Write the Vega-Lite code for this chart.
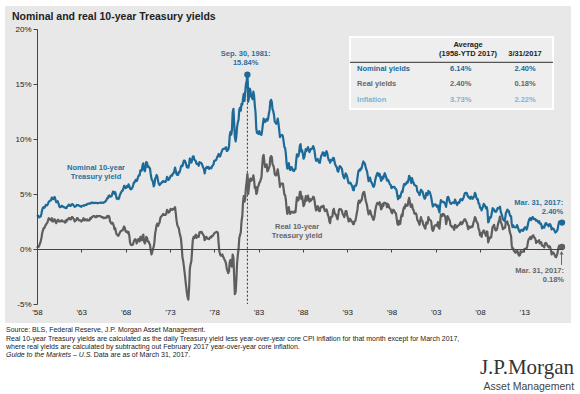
{
"$schema":"https://vega.github.io/schema/vega-lite/v6.json",
"width":525,"height":275,"autosize":"none",
"padding":{"left":37,"top":29,"right":18,"bottom":90},
"background":"white",
"config":{"font":"Liberation Sans","view":{"stroke":null},"axis":{"grid":false}},
"data":{"values":[{}]},
"datasets":{"yields":[
{"d":1958,"n":3.09,"r":0.1},{"d":1958.08,"n":3.05,"r":0.2},{"d":1958.17,"n":2.98,"r":0.2},{"d":1958.25,"n":2.88,"r":0.3},{"d":1958.33,"n":2.92,"r":0.5},{"d":1958.42,"n":2.97,"r":0.7},{"d":1958.5,"n":3.2,"r":1.0},{"d":1958.58,"n":3.54,"r":1.4},{"d":1958.67,"n":3.76,"r":1.7},{"d":1958.75,"n":3.8,"r":1.9},{"d":1958.83,"n":3.74,"r":1.9},{"d":1958.92,"n":3.86,"r":2.1},
{"d":1959,"n":4.02,"r":2.2},{"d":1959.08,"n":3.96,"r":2.3},{"d":1959.17,"n":3.99,"r":2.4},{"d":1959.25,"n":4.12,"r":2.6},{"d":1959.33,"n":4.31,"r":2.8},{"d":1959.42,"n":4.34,"r":2.7},{"d":1959.5,"n":4.4,"r":2.7},{"d":1959.58,"n":4.43,"r":2.6},{"d":1959.67,"n":4.68,"r":2.8},{"d":1959.75,"n":4.53,"r":2.5},{"d":1959.83,"n":4.53,"r":2.5},{"d":1959.92,"n":4.69,"r":2.7},
{"d":1960,"n":4.72,"r":2.7},{"d":1960.08,"n":4.49,"r":2.5},{"d":1960.17,"n":4.25,"r":2.35},{"d":1960.25,"n":4.28,"r":2.5},{"d":1960.33,"n":4.35,"r":2.65},{"d":1960.42,"n":4.15,"r":2.65},{"d":1960.5,"n":3.9,"r":2.5},{"d":1960.58,"n":3.8,"r":2.5},{"d":1960.67,"n":3.8,"r":2.5},{"d":1960.75,"n":3.89,"r":2.6},{"d":1960.83,"n":3.93,"r":2.6},{"d":1960.92,"n":3.84,"r":2.5},
{"d":1961,"n":3.84,"r":2.5},{"d":1961.08,"n":3.78,"r":2.5},{"d":1961.17,"n":3.74,"r":2.4},{"d":1961.25,"n":3.78,"r":2.6},{"d":1961.33,"n":3.71,"r":2.5},{"d":1961.42,"n":3.88,"r":2.7},{"d":1961.5,"n":3.92,"r":2.7},{"d":1961.58,"n":4.04,"r":2.8},{"d":1961.67,"n":3.98,"r":2.8},{"d":1961.75,"n":3.92,"r":2.7},{"d":1961.83,"n":3.94,"r":2.7},{"d":1961.92,"n":4.06,"r":2.9},
{"d":1962,"n":4.08,"r":2.9},{"d":1962.08,"n":4.04,"r":2.8},{"d":1962.17,"n":3.93,"r":2.7},{"d":1962.25,"n":3.84,"r":2.5},{"d":1962.33,"n":3.87,"r":2.6},{"d":1962.42,"n":3.91,"r":2.6},{"d":1962.5,"n":4.01,"r":2.8},{"d":1962.58,"n":3.98,"r":2.8},{"d":1962.67,"n":3.98,"r":2.7},{"d":1962.75,"n":3.93,"r":2.6},{"d":1962.83,"n":3.92,"r":2.6},{"d":1962.92,"n":3.86,"r":2.6},
{"d":1963,"n":3.83,"r":2.5},{"d":1963.08,"n":3.92,"r":2.6},{"d":1963.17,"n":3.93,"r":2.6},{"d":1963.25,"n":3.97,"r":2.8},{"d":1963.33,"n":3.93,"r":2.6},{"d":1963.42,"n":3.99,"r":2.7},{"d":1963.5,"n":4.02,"r":2.7},{"d":1963.58,"n":4.0,"r":2.6},{"d":1963.67,"n":4.08,"r":2.7},{"d":1963.75,"n":4.11,"r":2.6},{"d":1963.83,"n":4.12,"r":2.6},{"d":1963.92,"n":4.13,"r":2.6},
{"d":1964,"n":4.17,"r":2.8},{"d":1964.08,"n":4.15,"r":2.75},{"d":1964.17,"n":4.22,"r":2.9},{"d":1964.25,"n":4.23,"r":2.9},{"d":1964.33,"n":4.2,"r":3.0},{"d":1964.42,"n":4.17,"r":3.0},{"d":1964.5,"n":4.19,"r":3.0},{"d":1964.58,"n":4.19,"r":2.9},{"d":1964.67,"n":4.2,"r":2.9},{"d":1964.75,"n":4.19,"r":3.0},{"d":1964.83,"n":4.15,"r":2.95},{"d":1964.92,"n":4.18,"r":3.0},
{"d":1965,"n":4.19,"r":3.0},{"d":1965.08,"n":4.21,"r":3.0},{"d":1965.17,"n":4.21,"r":3.0},{"d":1965.25,"n":4.2,"r":2.9},{"d":1965.33,"n":4.21,"r":2.9},{"d":1965.42,"n":4.21,"r":2.9},{"d":1965.5,"n":4.2,"r":2.8},{"d":1965.58,"n":4.25,"r":2.85},{"d":1965.67,"n":4.29,"r":2.8},{"d":1965.75,"n":4.35,"r":2.85},{"d":1965.83,"n":4.45,"r":2.85},{"d":1965.92,"n":4.62,"r":3.0},
{"d":1966,"n":4.61,"r":2.9},{"d":1966.08,"n":4.83,"r":3.0},{"d":1966.17,"n":4.87,"r":2.9},{"d":1966.25,"n":4.75,"r":2.5},{"d":1966.33,"n":4.78,"r":2.4},{"d":1966.42,"n":4.81,"r":2.3},{"d":1966.5,"n":5.02,"r":2.4},{"d":1966.58,"n":5.22,"r":2.3},{"d":1966.67,"n":5.18,"r":2.1},{"d":1966.75,"n":5.01,"r":1.8},{"d":1966.83,"n":5.16,"r":1.9},{"d":1966.92,"n":4.84,"r":1.5},
{"d":1967,"n":4.58,"r":1.3},{"d":1967.08,"n":4.63,"r":1.3},{"d":1967.17,"n":4.54,"r":1.2},{"d":1967.25,"n":4.59,"r":1.3},{"d":1967.33,"n":4.85,"r":1.45},{"d":1967.42,"n":5.02,"r":1.6},{"d":1967.5,"n":5.16,"r":1.65},{"d":1967.58,"n":5.28,"r":1.7},{"d":1967.67,"n":5.3,"r":1.7},{"d":1967.75,"n":5.48,"r":1.9},{"d":1967.83,"n":5.75,"r":2.05},{"d":1967.92,"n":5.7,"r":1.9},
{"d":1968,"n":5.53,"r":1.6},{"d":1968.08,"n":5.56,"r":1.55},{"d":1968.17,"n":5.74,"r":1.6},{"d":1968.25,"n":5.64,"r":1.45},{"d":1968.33,"n":5.87,"r":1.55},{"d":1968.42,"n":5.72,"r":1.2},{"d":1968.5,"n":5.5,"r":0.6},{"d":1968.58,"n":5.42,"r":0.4},{"d":1968.67,"n":5.46,"r":0.35},{"d":1968.75,"n":5.58,"r":0.4},{"d":1968.83,"n":5.7,"r":0.4},{"d":1968.92,"n":6.03,"r":0.7},
{"d":1969,"n":6.04,"r":0.8},{"d":1969.08,"n":6.19,"r":0.9},{"d":1969.17,"n":6.3,"r":0.8},{"d":1969.25,"n":6.17,"r":0.5},{"d":1969.33,"n":6.32,"r":0.7},{"d":1969.42,"n":6.57,"r":0.9},{"d":1969.5,"n":6.72,"r":0.8},{"d":1969.58,"n":6.69,"r":0.7},{"d":1969.67,"n":7.16,"r":1.1},{"d":1969.75,"n":7.1,"r":0.8},{"d":1969.83,"n":7.14,"r":0.8},{"d":1969.92,"n":7.65,"r":1.2},
{"d":1970,"n":7.79,"r":1.3},{"d":1970.08,"n":7.24,"r":0.7},{"d":1970.17,"n":7.07,"r":0.5},{"d":1970.25,"n":7.39,"r":0.7},{"d":1970.33,"n":7.91,"r":1.1},{"d":1970.42,"n":7.84,"r":1.0},{"d":1970.5,"n":7.46,"r":0.7},{"d":1970.58,"n":7.53,"r":0.7},{"d":1970.67,"n":7.39,"r":0.5},{"d":1970.75,"n":7.33,"r":0.4},{"d":1970.83,"n":6.84,"r":-0.1},{"d":1970.92,"n":6.39,"r":-0.5},
{"d":1971,"n":6.24,"r":-0.3},{"d":1971.08,"n":6.11,"r":0.0},{"d":1971.17,"n":5.7,"r":0.2},{"d":1971.25,"n":5.83,"r":0.6},{"d":1971.33,"n":6.39,"r":1.4},{"d":1971.42,"n":6.52,"r":1.8},{"d":1971.5,"n":6.73,"r":2.2},{"d":1971.58,"n":6.58,"r":2.3},{"d":1971.67,"n":6.14,"r":2.1},{"d":1971.75,"n":5.93,"r":2.3},{"d":1971.83,"n":5.81,"r":2.4},{"d":1971.92,"n":5.93,"r":2.8},
{"d":1972,"n":5.95,"r":2.95},{"d":1972.08,"n":6.08,"r":3.0},{"d":1972.17,"n":6.07,"r":3.1},{"d":1972.25,"n":6.19,"r":3.2},{"d":1972.33,"n":6.13,"r":3.1},{"d":1972.42,"n":6.11,"r":3.1},{"d":1972.5,"n":6.11,"r":3.1},{"d":1972.58,"n":6.21,"r":3.2},{"d":1972.67,"n":6.55,"r":3.55},{"d":1972.75,"n":6.48,"r":3.5},{"d":1972.83,"n":6.28,"r":3.3},{"d":1972.92,"n":6.36,"r":3.35},
{"d":1973,"n":6.46,"r":3.45},{"d":1973.08,"n":6.64,"r":3.65},{"d":1973.17,"n":6.71,"r":3.6},{"d":1973.25,"n":6.67,"r":3.55},{"d":1973.33,"n":6.85,"r":3.65},{"d":1973.42,"n":6.9,"r":3.6},{"d":1973.5,"n":7.13,"r":3.7},{"d":1973.58,"n":7.4,"r":3.8},{"d":1973.67,"n":7.09,"r":3.2},{"d":1973.75,"n":6.79,"r":2.6},{"d":1973.83,"n":6.73,"r":2.2},{"d":1973.92,"n":6.74,"r":2.0},
{"d":1974,"n":6.99,"r":1.9},{"d":1974.08,"n":6.96,"r":1.5},{"d":1974.17,"n":7.21,"r":1.2},{"d":1974.25,"n":7.51,"r":0.9},{"d":1974.33,"n":7.58,"r":0.2},{"d":1974.42,"n":7.54,"r":-0.8},{"d":1974.5,"n":7.81,"r":-1.1},{"d":1974.58,"n":8.04,"r":-1.6},{"d":1974.67,"n":8.04,"r":-2.2},{"d":1974.75,"n":7.9,"r":-2.8},{"d":1974.83,"n":7.68,"r":-3.4},{"d":1974.92,"n":7.43,"r":-4.0},
{"d":1975,"n":7.5,"r":-4.4},{"d":1975.08,"n":7.39,"r":-4.6},{"d":1975.17,"n":7.73,"r":-3.5},{"d":1975.25,"n":8.23,"r":-1.8},{"d":1975.33,"n":8.06,"r":-1.4},{"d":1975.42,"n":7.86,"r":-1.1},{"d":1975.5,"n":8.06,"r":-0.2},{"d":1975.58,"n":8.4,"r":0.8},{"d":1975.67,"n":8.43,"r":1.1},{"d":1975.75,"n":8.14,"r":1.0},{"d":1975.83,"n":8.05,"r":1.15},{"d":1975.92,"n":8.0,"r":1.3},
{"d":1976,"n":7.74,"r":1.0},{"d":1976.08,"n":7.79,"r":1.2},{"d":1976.17,"n":7.73,"r":1.2},{"d":1976.25,"n":7.56,"r":1.1},{"d":1976.33,"n":7.9,"r":1.5},{"d":1976.42,"n":7.86,"r":1.55},{"d":1976.5,"n":7.83,"r":1.5},{"d":1976.58,"n":7.77,"r":1.55},{"d":1976.67,"n":7.59,"r":1.4},{"d":1976.75,"n":7.41,"r":1.3},{"d":1976.83,"n":7.29,"r":1.2},{"d":1976.92,"n":6.87,"r":0.8},
{"d":1977,"n":7.21,"r":0.9},{"d":1977.08,"n":7.39,"r":1.1},{"d":1977.17,"n":7.46,"r":1.05},{"d":1977.25,"n":7.37,"r":0.95},{"d":1977.33,"n":7.46,"r":0.95},{"d":1977.42,"n":7.28,"r":0.9},{"d":1977.5,"n":7.33,"r":1.0},{"d":1977.58,"n":7.4,"r":1.1},{"d":1977.67,"n":7.34,"r":1.05},{"d":1977.75,"n":7.52,"r":1.2},{"d":1977.83,"n":7.58,"r":1.2},{"d":1977.92,"n":7.69,"r":1.3},
{"d":1978,"n":8.01,"r":1.4},{"d":1978.08,"n":8.03,"r":1.5},{"d":1978.17,"n":8.04,"r":1.5},{"d":1978.25,"n":8.15,"r":1.55},{"d":1978.33,"n":8.35,"r":1.55},{"d":1978.42,"n":8.46,"r":1.45},{"d":1978.5,"n":8.64,"r":0.5},{"d":1978.58,"n":8.41,"r":-0.2},{"d":1978.67,"n":8.42,"r":-0.5},{"d":1978.75,"n":8.64,"r":-0.6},{"d":1978.83,"n":8.81,"r":-0.6},{"d":1978.92,"n":9.01,"r":-0.5},
{"d":1979,"n":9.1,"r":-0.7},{"d":1979.08,"n":9.1,"r":-0.8},{"d":1979.17,"n":9.12,"r":-1.0},{"d":1979.25,"n":9.18,"r":-1.1},{"d":1979.33,"n":9.25,"r":-1.3},{"d":1979.42,"n":8.91,"r":-1.8},{"d":1979.5,"n":8.95,"r":-2.0},{"d":1979.58,"n":9.03,"r":-2.2},{"d":1979.67,"n":9.33,"r":-2.0},{"d":1979.75,"n":10.3,"r":-1.2},{"d":1979.83,"n":10.65,"r":-1.0},{"d":1979.92,"n":10.39,"r":-1.5},
{"d":1980,"n":10.8,"r":-1.6},{"d":1980.08,"n":12.41,"r":-0.5},{"d":1980.17,"n":12.75,"r":-0.8},{"d":1980.25,"n":11.47,"r":-2.5},{"d":1980.33,"n":10.18,"r":-4.1},{"d":1980.42,"n":9.78,"r":-3.9},{"d":1980.5,"n":10.25,"r":-2.8},{"d":1980.58,"n":11.1,"r":-1.3},{"d":1980.67,"n":11.51,"r":-0.5},{"d":1980.75,"n":11.75,"r":0.0},{"d":1980.83,"n":12.68,"r":1.0},{"d":1980.92,"n":12.84,"r":1.3},
{"d":1981,"n":12.57,"r":1.5},{"d":1981.08,"n":13.19,"r":2.5},{"d":1981.17,"n":13.12,"r":3.0},{"d":1981.25,"n":13.68,"r":4.2},{"d":1981.33,"n":14.1,"r":4.8},{"d":1981.42,"n":13.47,"r":4.3},{"d":1981.5,"n":14.28,"r":4.6},{"d":1981.58,"n":14.94,"r":5.6},{"d":1981.67,"n":15.32,"r":6.2},{"d":1981.745,"n":15.84,"r":6.8},{"d":1981.79,"n":15.15,"r":6.4},{"d":1981.83,"n":13.39,"r":5.0},{"d":1981.92,"n":13.72,"r":5.6},
{"d":1982,"n":14.59,"r":6.2},{"d":1982.08,"n":14.43,"r":6.4},{"d":1982.17,"n":13.86,"r":6.2},{"d":1982.25,"n":13.87,"r":6.4},{"d":1982.33,"n":13.62,"r":6.3},{"d":1982.42,"n":14.3,"r":6.7},{"d":1982.5,"n":13.95,"r":6.25},{"d":1982.58,"n":13.06,"r":5.55},{"d":1982.67,"n":12.34,"r":5.65},{"d":1982.75,"n":10.91,"r":5.0},{"d":1982.83,"n":10.55,"r":5.15},{"d":1982.92,"n":10.54,"r":5.65},
{"d":1983,"n":10.46,"r":5.75},{"d":1983.08,"n":10.72,"r":6.0},{"d":1983.17,"n":10.51,"r":6.1},{"d":1983.25,"n":10.4,"r":6.3},{"d":1983.33,"n":10.38,"r":6.5},{"d":1983.42,"n":10.85,"r":7.55},{"d":1983.5,"n":11.38,"r":8.4},{"d":1983.58,"n":11.85,"r":8.55},{"d":1983.67,"n":11.65,"r":7.85},{"d":1983.75,"n":11.54,"r":7.45},{"d":1983.83,"n":11.69,"r":7.6},{"d":1983.92,"n":11.83,"r":7.7},
{"d":1984,"n":11.67,"r":7.05},{"d":1984.08,"n":11.84,"r":7.15},{"d":1984.17,"n":12.32,"r":7.4},{"d":1984.25,"n":12.63,"r":7.5},{"d":1984.33,"n":13.41,"r":8.3},{"d":1984.42,"n":13.56,"r":8.45},{"d":1984.5,"n":13.36,"r":8.35},{"d":1984.58,"n":12.72,"r":7.7},{"d":1984.67,"n":12.52,"r":7.6},{"d":1984.75,"n":12.16,"r":7.35},{"d":1984.83,"n":11.57,"r":6.8},{"d":1984.92,"n":11.5,"r":6.7},
{"d":1985,"n":11.38,"r":6.7},{"d":1985.08,"n":11.51,"r":6.9},{"d":1985.17,"n":11.86,"r":7.25},{"d":1985.25,"n":11.43,"r":6.8},{"d":1985.33,"n":10.85,"r":6.35},{"d":1985.42,"n":10.16,"r":5.65},{"d":1985.5,"n":10.31,"r":5.9},{"d":1985.58,"n":10.33,"r":5.95},{"d":1985.67,"n":10.37,"r":5.95},{"d":1985.75,"n":10.24,"r":5.95},{"d":1985.83,"n":9.78,"r":5.5},{"d":1985.92,"n":9.26,"r":4.95},
{"d":1986,"n":9.19,"r":4.9},{"d":1986.08,"n":8.7,"r":4.5},{"d":1986.17,"n":7.78,"r":3.7},{"d":1986.25,"n":7.3,"r":3.2},{"d":1986.33,"n":7.71,"r":3.6},{"d":1986.42,"n":7.8,"r":3.8},{"d":1986.5,"n":7.3,"r":3.3},{"d":1986.58,"n":7.17,"r":3.2},{"d":1986.67,"n":7.45,"r":3.35},{"d":1986.75,"n":7.43,"r":3.4},{"d":1986.83,"n":7.25,"r":3.35},{"d":1986.92,"n":7.11,"r":3.3},
{"d":1987,"n":7.08,"r":3.3},{"d":1987.08,"n":7.25,"r":3.45},{"d":1987.17,"n":7.25,"r":3.35},{"d":1987.25,"n":8.02,"r":4.0},{"d":1987.33,"n":8.61,"r":4.7},{"d":1987.42,"n":8.4,"r":4.4},{"d":1987.5,"n":8.45,"r":4.45},{"d":1987.58,"n":8.76,"r":4.65},{"d":1987.67,"n":9.42,"r":5.2},{"d":1987.75,"n":9.52,"r":5.2},{"d":1987.83,"n":8.86,"r":4.55},{"d":1987.92,"n":8.99,"r":4.8},
{"d":1988,"n":8.67,"r":4.35},{"d":1988.08,"n":8.21,"r":3.9},{"d":1988.17,"n":8.37,"r":4.05},{"d":1988.25,"n":8.72,"r":4.4},{"d":1988.33,"n":9.09,"r":4.8},{"d":1988.42,"n":8.92,"r":4.4},{"d":1988.5,"n":9.06,"r":4.55},{"d":1988.58,"n":9.26,"r":4.85},{"d":1988.67,"n":8.98,"r":4.5},{"d":1988.75,"n":8.8,"r":4.3},{"d":1988.83,"n":8.96,"r":4.55},{"d":1988.92,"n":9.11,"r":4.4},
{"d":1989,"n":9.09,"r":4.5},{"d":1989.08,"n":9.17,"r":4.55},{"d":1989.17,"n":9.36,"r":4.75},{"d":1989.25,"n":9.18,"r":4.7},{"d":1989.33,"n":8.86,"r":4.35},{"d":1989.42,"n":8.28,"r":3.8},{"d":1989.5,"n":8.02,"r":3.5},{"d":1989.58,"n":8.11,"r":3.6},{"d":1989.67,"n":8.19,"r":3.9},{"d":1989.75,"n":8.01,"r":3.7},{"d":1989.83,"n":7.87,"r":3.45},{"d":1989.92,"n":7.84,"r":3.45},
{"d":1990,"n":8.21,"r":3.8},{"d":1990.08,"n":8.47,"r":3.85},{"d":1990.17,"n":8.59,"r":3.8},{"d":1990.25,"n":8.79,"r":3.9},{"d":1990.33,"n":8.76,"r":3.95},{"d":1990.42,"n":8.48,"r":3.6},{"d":1990.5,"n":8.47,"r":3.45},{"d":1990.58,"n":8.75,"r":3.55},{"d":1990.67,"n":8.89,"r":3.6},{"d":1990.75,"n":8.72,"r":3.4},{"d":1990.83,"n":8.39,"r":3.1},{"d":1990.92,"n":8.08,"r":2.9},
{"d":1991,"n":8.09,"r":2.5},{"d":1991.08,"n":7.85,"r":2.35},{"d":1991.17,"n":8.11,"r":2.9},{"d":1991.25,"n":8.04,"r":2.95},{"d":1991.33,"n":8.07,"r":2.95},{"d":1991.42,"n":8.28,"r":3.5},{"d":1991.5,"n":8.27,"r":3.65},{"d":1991.58,"n":7.9,"r":3.3},{"d":1991.67,"n":7.65,"r":3.15},{"d":1991.75,"n":7.53,"r":3.1},{"d":1991.83,"n":7.42,"r":2.9},{"d":1991.92,"n":7.09,"r":2.7},
{"d":1992,"n":7.03,"r":3.1},{"d":1992.08,"n":7.34,"r":3.55},{"d":1992.17,"n":7.54,"r":3.65},{"d":1992.25,"n":7.48,"r":3.6},{"d":1992.33,"n":7.39,"r":3.6},{"d":1992.42,"n":7.26,"r":3.45},{"d":1992.5,"n":6.84,"r":3.15},{"d":1992.58,"n":6.59,"r":3.1},{"d":1992.67,"n":6.42,"r":2.9},{"d":1992.75,"n":6.59,"r":3.1},{"d":1992.83,"n":6.87,"r":3.45},{"d":1992.92,"n":6.77,"r":3.45},
{"d":1993,"n":6.6,"r":3.1},{"d":1993.08,"n":6.26,"r":2.85},{"d":1993.17,"n":5.98,"r":2.5},{"d":1993.25,"n":5.97,"r":2.55},{"d":1993.33,"n":6.04,"r":2.75},{"d":1993.42,"n":5.96,"r":2.65},{"d":1993.5,"n":5.81,"r":2.5},{"d":1993.58,"n":5.68,"r":2.5},{"d":1993.67,"n":5.36,"r":2.25},{"d":1993.75,"n":5.33,"r":2.25},{"d":1993.83,"n":5.72,"r":2.5},{"d":1993.92,"n":5.77,"r":2.55},
{"d":1994,"n":5.75,"r":2.85},{"d":1994.08,"n":5.97,"r":3.2},{"d":1994.17,"n":6.48,"r":3.6},{"d":1994.25,"n":6.97,"r":4.2},{"d":1994.33,"n":7.18,"r":4.4},{"d":1994.42,"n":7.1,"r":4.2},{"d":1994.5,"n":7.3,"r":4.4},{"d":1994.58,"n":7.24,"r":4.35},{"d":1994.67,"n":7.46,"r":4.55},{"d":1994.75,"n":7.74,"r":4.95},{"d":1994.83,"n":7.96,"r":5.15},{"d":1994.92,"n":7.81,"r":5.2},
{"d":1995,"n":7.78,"r":4.9},{"d":1995.08,"n":7.47,"r":4.45},{"d":1995.17,"n":7.2,"r":4.2},{"d":1995.25,"n":7.06,"r":3.95},{"d":1995.33,"n":6.63,"r":3.5},{"d":1995.42,"n":6.17,"r":3.15},{"d":1995.5,"n":6.28,"r":3.3},{"d":1995.58,"n":6.49,"r":3.5},{"d":1995.67,"n":6.2,"r":3.3},{"d":1995.75,"n":6.04,"r":3.05},{"d":1995.83,"n":5.93,"r":2.95},{"d":1995.92,"n":5.71,"r":2.7},
{"d":1996,"n":5.65,"r":2.65},{"d":1996.08,"n":5.81,"r":2.9},{"d":1996.17,"n":6.27,"r":3.45},{"d":1996.25,"n":6.51,"r":3.8},{"d":1996.33,"n":6.74,"r":4.05},{"d":1996.42,"n":6.91,"r":4.2},{"d":1996.5,"n":6.87,"r":4.15},{"d":1996.58,"n":6.64,"r":4.05},{"d":1996.67,"n":6.83,"r":4.25},{"d":1996.75,"n":6.53,"r":3.95},{"d":1996.83,"n":6.2,"r":3.6},{"d":1996.92,"n":6.3,"r":3.7},
{"d":1997,"n":6.58,"r":4.1},{"d":1997.08,"n":6.42,"r":3.9},{"d":1997.17,"n":6.69,"r":4.2},{"d":1997.25,"n":6.89,"r":4.2},{"d":1997.33,"n":6.71,"r":4.2},{"d":1997.42,"n":6.49,"r":4.1},{"d":1997.5,"n":6.22,"r":3.8},{"d":1997.58,"n":6.3,"r":4.1},{"d":1997.67,"n":6.21,"r":4.0},{"d":1997.75,"n":6.03,"r":3.75},{"d":1997.83,"n":5.88,"r":3.7},{"d":1997.92,"n":5.81,"r":3.6},
{"d":1998,"n":5.54,"r":3.35},{"d":1998.08,"n":5.57,"r":3.25},{"d":1998.17,"n":5.65,"r":3.55},{"d":1998.25,"n":5.64,"r":3.55},{"d":1998.33,"n":5.65,"r":3.45},{"d":1998.42,"n":5.5,"r":3.3},{"d":1998.5,"n":5.46,"r":3.25},{"d":1998.58,"n":5.34,"r":2.85},{"d":1998.67,"n":4.81,"r":2.3},{"d":1998.75,"n":4.53,"r":2.2},{"d":1998.83,"n":4.83,"r":2.55},{"d":1998.92,"n":4.65,"r":2.25},
{"d":1999,"n":4.72,"r":2.3},{"d":1999.08,"n":5.0,"r":2.9},{"d":1999.17,"n":5.23,"r":3.15},{"d":1999.25,"n":5.18,"r":3.0},{"d":1999.33,"n":5.54,"r":3.55},{"d":1999.42,"n":5.9,"r":3.8},{"d":1999.5,"n":5.79,"r":3.7},{"d":1999.58,"n":5.94,"r":4.05},{"d":1999.67,"n":5.92,"r":3.9},{"d":1999.75,"n":6.11,"r":4.0},{"d":1999.83,"n":6.03,"r":3.95},{"d":1999.92,"n":6.28,"r":4.4},
{"d":2000,"n":6.66,"r":4.65},{"d":2000.08,"n":6.52,"r":4.3},{"d":2000.17,"n":6.26,"r":3.85},{"d":2000.25,"n":5.99,"r":3.8},{"d":2000.33,"n":6.44,"r":4.05},{"d":2000.42,"n":6.1,"r":3.6},{"d":2000.5,"n":6.05,"r":3.55},{"d":2000.58,"n":5.83,"r":3.25},{"d":2000.67,"n":5.8,"r":3.2},{"d":2000.75,"n":5.74,"r":3.25},{"d":2000.83,"n":5.72,"r":3.1},{"d":2000.92,"n":5.24,"r":2.65},
{"d":2001,"n":5.16,"r":2.55},{"d":2001.08,"n":5.1,"r":2.4},{"d":2001.17,"n":4.89,"r":2.2},{"d":2001.25,"n":5.14,"r":2.55},{"d":2001.33,"n":5.39,"r":2.9},{"d":2001.42,"n":5.28,"r":2.6},{"d":2001.5,"n":5.24,"r":2.55},{"d":2001.58,"n":4.97,"r":2.25},{"d":2001.67,"n":4.73,"r":2.1},{"d":2001.75,"n":4.57,"r":1.95},{"d":2001.83,"n":4.65,"r":1.85},{"d":2001.92,"n":5.09,"r":2.4},
{"d":2002,"n":5.04,"r":2.45},{"d":2002.08,"n":4.91,"r":2.3},{"d":2002.17,"n":5.28,"r":2.9},{"d":2002.25,"n":5.21,"r":2.7},{"d":2002.33,"n":5.16,"r":2.65},{"d":2002.42,"n":4.93,"r":2.6},{"d":2002.5,"n":4.65,"r":2.45},{"d":2002.58,"n":4.26,"r":1.85},{"d":2002.67,"n":3.87,"r":1.65},{"d":2002.75,"n":3.94,"r":1.75},{"d":2002.83,"n":4.05,"r":2.05},{"d":2002.92,"n":4.03,"r":2.15},
{"d":2003,"n":4.05,"r":2.15},{"d":2003.08,"n":3.9,"r":2.2},{"d":2003.17,"n":3.81,"r":2.1},{"d":2003.25,"n":3.96,"r":2.45},{"d":2003.33,"n":3.57,"r":1.95},{"d":2003.42,"n":3.33,"r":1.85},{"d":2003.5,"n":3.98,"r":2.5},{"d":2003.58,"n":4.45,"r":3.15},{"d":2003.67,"n":4.27,"r":3.05},{"d":2003.75,"n":4.29,"r":3.0},{"d":2003.83,"n":4.3,"r":3.2},{"d":2003.92,"n":4.27,"r":3.15},
{"d":2004,"n":4.15,"r":3.05},{"d":2004.08,"n":4.08,"r":2.9},{"d":2004.17,"n":3.83,"r":2.25},{"d":2004.25,"n":4.35,"r":2.55},{"d":2004.33,"n":4.72,"r":3.0},{"d":2004.42,"n":4.73,"r":2.85},{"d":2004.5,"n":4.5,"r":2.7},{"d":2004.58,"n":4.28,"r":2.6},{"d":2004.67,"n":4.13,"r":2.15},{"d":2004.75,"n":4.1,"r":2.1},{"d":2004.83,"n":4.19,"r":2.0},{"d":2004.92,"n":4.23,"r":2.05},
{"d":2005,"n":4.22,"r":1.9},{"d":2005.08,"n":4.17,"r":1.75},{"d":2005.17,"n":4.5,"r":2.2},{"d":2005.25,"n":4.34,"r":2.15},{"d":2005.33,"n":4.14,"r":1.95},{"d":2005.42,"n":4.0,"r":2.0},{"d":2005.5,"n":4.18,"r":2.1},{"d":2005.58,"n":4.26,"r":2.15},{"d":2005.67,"n":4.2,"r":2.2},{"d":2005.75,"n":4.46,"r":2.35},{"d":2005.83,"n":4.54,"r":2.45},{"d":2005.92,"n":4.47,"r":2.25},
{"d":2006,"n":4.42,"r":2.3},{"d":2006.08,"n":4.57,"r":2.45},{"d":2006.17,"n":4.72,"r":2.6},{"d":2006.25,"n":4.99,"r":2.7},{"d":2006.33,"n":5.11,"r":2.7},{"d":2006.42,"n":5.11,"r":2.5},{"d":2006.5,"n":5.09,"r":2.4},{"d":2006.58,"n":4.88,"r":2.1},{"d":2006.67,"n":4.72,"r":1.8},{"d":2006.75,"n":4.73,"r":2.05},{"d":2006.83,"n":4.6,"r":2.0},{"d":2006.92,"n":4.56,"r":1.95},
{"d":2007,"n":4.76,"r":2.05},{"d":2007.08,"n":4.72,"r":2.0},{"d":2007.17,"n":4.56,"r":2.05},{"d":2007.25,"n":4.69,"r":2.4},{"d":2007.33,"n":4.75,"r":2.55},{"d":2007.42,"n":5.1,"r":2.9},{"d":2007.5,"n":5.0,"r":2.8},{"d":2007.58,"n":4.67,"r":2.55},{"d":2007.67,"n":4.52,"r":2.4},{"d":2007.75,"n":4.53,"r":2.3},{"d":2007.83,"n":4.15,"r":1.85},{"d":2007.92,"n":4.1,"r":1.7},
{"d":2008,"n":3.74,"r":1.25},{"d":2008.08,"n":3.74,"r":1.45},{"d":2008.17,"n":3.51,"r":1.1},{"d":2008.25,"n":3.68,"r":1.4},{"d":2008.33,"n":3.88,"r":1.6},{"d":2008.42,"n":4.1,"r":1.7},{"d":2008.5,"n":4.01,"r":1.5},{"d":2008.58,"n":3.89,"r":1.4},{"d":2008.67,"n":3.69,"r":1.2},{"d":2008.75,"n":3.81,"r":1.6},{"d":2008.83,"n":3.53,"r":1.55},{"d":2008.92,"n":2.42,"r":0.6},
{"d":2009,"n":2.52,"r":0.8},{"d":2009.08,"n":2.87,"r":1.05},{"d":2009.17,"n":2.82,"r":1.0},{"d":2009.25,"n":2.93,"r":1.05},{"d":2009.33,"n":3.29,"r":1.5},{"d":2009.42,"n":3.72,"r":2.0},{"d":2009.5,"n":3.56,"r":2.05},{"d":2009.58,"n":3.59,"r":2.2},{"d":2009.67,"n":3.4,"r":1.9},{"d":2009.75,"n":3.39,"r":1.7},{"d":2009.83,"n":3.4,"r":1.7},{"d":2009.92,"n":3.59,"r":1.8},
{"d":2010,"n":3.73,"r":2.15},{"d":2010.08,"n":3.69,"r":2.4},{"d":2010.17,"n":3.73,"r":2.65},{"d":2010.25,"n":3.85,"r":2.95},{"d":2010.33,"n":3.42,"r":2.5},{"d":2010.42,"n":3.2,"r":2.3},{"d":2010.5,"n":3.01,"r":2.1},{"d":2010.58,"n":2.7,"r":1.8},{"d":2010.67,"n":2.65,"r":1.85},{"d":2010.75,"n":2.54,"r":1.95},{"d":2010.83,"n":2.76,"r":1.95},{"d":2010.92,"n":3.29,"r":2.5},
{"d":2011,"n":3.39,"r":2.4},{"d":2011.08,"n":3.58,"r":2.5},{"d":2011.17,"n":3.41,"r":2.2},{"d":2011.25,"n":3.46,"r":2.15},{"d":2011.33,"n":3.17,"r":1.65},{"d":2011.42,"n":3.0,"r":1.4},{"d":2011.5,"n":3.0,"r":1.2},{"d":2011.58,"n":2.3,"r":0.3},{"d":2011.67,"n":1.98,"r":0.0},{"d":2011.75,"n":2.15,"r":0.05},{"d":2011.83,"n":2.01,"r":-0.2},{"d":2011.92,"n":1.98,"r":-0.2},
{"d":2012,"n":1.97,"r":-0.35},{"d":2012.08,"n":1.97,"r":-0.25},{"d":2012.17,"n":2.17,"r":-0.15},{"d":2012.25,"n":2.05,"r":-0.25},{"d":2012.33,"n":1.8,"r":-0.5},{"d":2012.42,"n":1.62,"r":-0.6},{"d":2012.5,"n":1.53,"r":-0.55},{"d":2012.58,"n":1.68,"r":-0.2},{"d":2012.67,"n":1.72,"r":-0.3},{"d":2012.75,"n":1.75,"r":-0.25},{"d":2012.83,"n":1.65,"r":-0.25},{"d":2012.92,"n":1.72,"r":-0.2},
{"d":2013,"n":1.91,"r":0.0},{"d":2013.08,"n":1.98,"r":0.0},{"d":2013.17,"n":1.96,"r":0.05},{"d":2013.25,"n":1.76,"r":0.05},{"d":2013.33,"n":1.93,"r":0.25},{"d":2013.42,"n":2.3,"r":0.7},{"d":2013.5,"n":2.58,"r":0.9},{"d":2013.58,"n":2.74,"r":0.95},{"d":2013.67,"n":2.81,"r":1.1},{"d":2013.75,"n":2.62,"r":0.9},{"d":2013.83,"n":2.72,"r":1.0},{"d":2013.92,"n":2.9,"r":1.2},
{"d":2014,"n":2.86,"r":1.25},{"d":2014.08,"n":2.71,"r":1.1},{"d":2014.17,"n":2.72,"r":1.0},{"d":2014.25,"n":2.71,"r":0.9},{"d":2014.33,"n":2.56,"r":0.55},{"d":2014.42,"n":2.6,"r":0.7},{"d":2014.5,"n":2.54,"r":0.65},{"d":2014.58,"n":2.42,"r":0.7},{"d":2014.67,"n":2.53,"r":0.8},{"d":2014.75,"n":2.3,"r":0.5},{"d":2014.83,"n":2.33,"r":0.6},{"d":2014.92,"n":2.21,"r":0.6},
{"d":2015,"n":1.88,"r":0.3},{"d":2015.08,"n":1.98,"r":0.3},{"d":2015.17,"n":2.04,"r":0.25},{"d":2015.25,"n":1.94,"r":0.15},{"d":2015.33,"n":2.2,"r":0.5},{"d":2015.42,"n":2.36,"r":0.55},{"d":2015.5,"n":2.32,"r":0.5},{"d":2015.58,"n":2.17,"r":0.35},{"d":2015.67,"n":2.17,"r":0.25},{"d":2015.75,"n":2.07,"r":0.15},{"d":2015.83,"n":2.26,"r":0.25},{"d":2015.92,"n":2.24,"r":0.15},
{"d":2016,"n":2.09,"r":-0.1},{"d":2016.08,"n":1.78,"r":-0.5},{"d":2016.17,"n":1.89,"r":-0.3},{"d":2016.25,"n":1.81,"r":-0.3},{"d":2016.33,"n":1.81,"r":-0.4},{"d":2016.42,"n":1.64,"r":-0.55},{"d":2016.5,"n":1.5,"r":-0.7},{"d":2016.58,"n":1.56,"r":-0.75},{"d":2016.67,"n":1.63,"r":-0.55},{"d":2016.75,"n":1.76,"r":-0.35},{"d":2016.83,"n":2.14,"r":0.05},{"d":2016.92,"n":2.49,"r":0.3},
{"d":2017,"n":2.43,"r":0.17},{"d":2017.08,"n":2.42,"r":0.2},{"d":2017.17,"n":2.48,"r":0.25},{"d":2017.25,"n":2.4,"r":0.18}
]},
"layer":[
{"mark":{"type":"rect","fill":"#e8e8e8"},"encoding":{"x":{"datum":1954.39,"type":"quantitative"},"x2":{"datum":2018.27},"y":{"datum":22.09,"type":"quantitative"},"y2":{"datum":-6.73}}},
{"mark":{"type":"rect","fill":"#eeeeee","stroke":"#ffffff","strokeWidth":2},"encoding":{"x":{"datum":1993.33,"type":"quantitative"},"x2":{"datum":2016.24},"y":{"datum":19.27,"type":"quantitative"},"y2":{"datum":12.73}}},
{"mark":{"type":"rule","color":"#555555","strokeWidth":1.2},"encoding":{"x":{"datum":1993.33,"type":"quantitative"},"x2":{"datum":2016.24},"y":{"datum":16.97,"type":"quantitative"}}},
{"data":{"name":"yields"},"transform":[{"filter":"datum.d == 1981.745"}],"mark":{"type":"rule","color":"#333333","strokeWidth":1,"strokeDash":[2,2]},"encoding":{"x":{"field":"d","type":"quantitative"},"y":{"field":"n","type":"quantitative"},"y2":{"datum":-5}}},
{"data":{"name":"yields"},"mark":{"type":"line","color":"#5e5e5e","strokeWidth":2.2,"strokeJoin":"round"},"encoding":{"x":{"field":"d","type":"quantitative"},"y":{"field":"r","type":"quantitative"}}},
{"data":{"name":"yields"},"mark":{"type":"line","color":"#1d6a98","strokeWidth":2.2,"strokeJoin":"round"},"encoding":{
 "x":{"field":"d","type":"quantitative","title":null,"scale":{"domain":[1958,2017.25],"nice":false,"zero":false},
  "axis":{"values":[1958,1963,1968,1973,1978,1983,1988,1993,1998,2003,2008,2013],"labelExpr":"\"'\" + substring(toString(datum.value), 2, 4)","offset":-55,"tickSize":3,"labelPadding":56,"domainColor":"#444444","tickColor":"#444444","labelFontSize":8,"labelColor":"#222222","labelFlush":false,"labelOverlap":false,"zindex":1,"title":null}},
 "y":{"field":"n","type":"quantitative","title":null,"scale":{"domain":[-5,20],"nice":false,"zero":false},
  "axis":{"values":[-5,0,5,10,15,20],"labelExpr":"datum.value + '%'","tickSize":4,"labelPadding":2,"domainColor":"#444444","tickColor":"#444444","labelFontSize":8,"labelColor":"#222222","zindex":1,"title":null}}}},
{"data":{"name":"yields"},"transform":[{"filter":"datum.d == 1981.745 || datum.d == 2017.25"}],"mark":{"type":"point","filled":true,"color":"#1d6a98","size":40,"opacity":1},"encoding":{"x":{"field":"d","type":"quantitative"},"y":{"field":"n","type":"quantitative"}}},
{"data":{"name":"yields"},"transform":[{"filter":"datum.d == 2017.25"}],"mark":{"type":"point","filled":true,"color":"#5e5e5e","size":40,"opacity":1},"encoding":{"x":{"field":"d","type":"quantitative"},"y":{"field":"r","type":"quantitative"}}},
{"mark":{"type":"rule","color":"#666666","strokeWidth":1},"encoding":{"x":{"datum":2017.2,"type":"quantitative"},"y":{"datum":-1.45,"type":"quantitative"},"y2":{"datum":-0.4}}},
{"mark":{"type":"point","shape":"triangle-up","filled":true,"color":"#666666","size":16,"opacity":1},"encoding":{"x":{"datum":2017.2,"type":"quantitative"},"y":{"datum":-0.35,"type":"quantitative"}}},
{"mark":{"type":"text","text":"Nominal and real 10-year Treasury yields","align":"left","baseline":"alphabetic","fontSize":10.5,"fontWeight":"bold","color":"#222222"},"encoding":{"x":{"datum":1955.18,"type":"quantitative"},"y":{"datum":20.82,"type":"quantitative"}}},
{"mark":{"type":"text","text":["Sep. 30, 1981:","15.84%"],"align":"center","baseline":"middle","lineHeight":9.5,"fontSize":7.5,"fontWeight":"bold","color":"#2a6f9c"},"encoding":{"x":{"datum":1981.55,"type":"quantitative"},"y":{"datum":17.73,"type":"quantitative"}}},
{"mark":{"type":"text","text":["Nominal 10-year","Treasury yield"],"align":"center","baseline":"middle","lineHeight":9,"fontSize":7.5,"fontWeight":"bold","color":"#2a6f9c"},"encoding":{"x":{"datum":1964.66,"type":"quantitative"},"y":{"datum":7.33,"type":"quantitative"}}},
{"mark":{"type":"text","text":["Mar. 31, 2017:","2.40%"],"align":"right","baseline":"middle","lineHeight":9.5,"fontSize":7.5,"fontWeight":"bold","color":"#2a6f9c"},"encoding":{"x":{"datum":2017.38,"type":"quantitative"},"y":{"datum":4.21,"type":"quantitative"}}},
{"mark":{"type":"text","text":["Real 10-year","Treasury yield"],"align":"center","baseline":"middle","lineHeight":9,"fontSize":7.5,"fontWeight":"bold","color":"#666666"},"encoding":{"x":{"datum":1987.35,"type":"quantitative"},"y":{"datum":1.97,"type":"quantitative"}}},
{"mark":{"type":"text","text":["Mar. 31, 2017:","0.18%"],"align":"right","baseline":"middle","lineHeight":9.5,"fontSize":7.5,"fontWeight":"bold","color":"#666666"},"encoding":{"x":{"datum":2017.48,"type":"quantitative"},"y":{"datum":-1.97,"type":"quantitative"}}},
{"mark":{"type":"text","text":["Average","(1958-YTD 2017)"],"align":"center","baseline":"middle","lineHeight":9,"fontSize":7.5,"fontWeight":"bold","color":"#222222"},"encoding":{"x":{"datum":2006.65,"type":"quantitative"},"y":{"datum":18.55,"type":"quantitative"}}},
{"mark":{"type":"text","text":"3/31/2017","align":"center","baseline":"middle","fontSize":7.5,"fontWeight":"bold","color":"#222222"},"encoding":{"x":{"datum":2013.08,"type":"quantitative"},"y":{"datum":17.73,"type":"quantitative"}}},
{"mark":{"type":"text","text":"Nominal yields","align":"left","baseline":"middle","fontSize":7.5,"fontWeight":"bold","color":"#1d6a98"},"encoding":{"x":{"datum":1994.12,"type":"quantitative"},"y":{"datum":16.34,"type":"quantitative"}}},
{"mark":{"type":"text","text":"6.14%","align":"center","baseline":"middle","fontSize":7.5,"fontWeight":"bold","color":"#1d6a98"},"encoding":{"x":{"datum":2005.82,"type":"quantitative"},"y":{"datum":16.34,"type":"quantitative"}}},
{"mark":{"type":"text","text":"2.40%","align":"center","baseline":"middle","fontSize":7.5,"fontWeight":"bold","color":"#1d6a98"},"encoding":{"x":{"datum":2013.08,"type":"quantitative"},"y":{"datum":16.34,"type":"quantitative"}}},
{"mark":{"type":"text","text":"Real yields","align":"left","baseline":"middle","fontSize":7.5,"fontWeight":"bold","color":"#666666"},"encoding":{"x":{"datum":1994.12,"type":"quantitative"},"y":{"datum":14.97,"type":"quantitative"}}},
{"mark":{"type":"text","text":"2.40%","align":"center","baseline":"middle","fontSize":7.5,"fontWeight":"bold","color":"#666666"},"encoding":{"x":{"datum":2005.82,"type":"quantitative"},"y":{"datum":14.97,"type":"quantitative"}}},
{"mark":{"type":"text","text":"0.18%","align":"center","baseline":"middle","fontSize":7.5,"fontWeight":"bold","color":"#666666"},"encoding":{"x":{"datum":2013.08,"type":"quantitative"},"y":{"datum":14.97,"type":"quantitative"}}},
{"mark":{"type":"text","text":"Inflation","align":"left","baseline":"middle","fontSize":7.5,"fontWeight":"bold","color":"#7ab4d6"},"encoding":{"x":{"datum":1994.12,"type":"quantitative"},"y":{"datum":13.52,"type":"quantitative"}}},
{"mark":{"type":"text","text":"3.73%","align":"center","baseline":"middle","fontSize":7.5,"fontWeight":"bold","color":"#7ab4d6"},"encoding":{"x":{"datum":2005.82,"type":"quantitative"},"y":{"datum":13.52,"type":"quantitative"}}},
{"mark":{"type":"text","text":"2.22%","align":"center","baseline":"middle","fontSize":7.5,"fontWeight":"bold","color":"#7ab4d6"},"encoding":{"x":{"datum":2013.08,"type":"quantitative"},"y":{"datum":13.52,"type":"quantitative"}}},
{"mark":{"type":"text","text":"Source: BLS, Federal Reserve, J.P. Morgan Asset Management.","align":"left","baseline":"middle","fontSize":7,"color":"#222222"},"encoding":{"x":{"datum":1954.5,"type":"quantitative"},"y":{"datum":-7.36,"type":"quantitative"}}},
{"mark":{"type":"text","text":"Real 10-year Treasury yields are calculated as the daily Treasury yield less year-over-year core CPI inflation for that month except for March 2017,","align":"left","baseline":"middle","fontSize":7,"color":"#222222"},"encoding":{"x":{"datum":1954.5,"type":"quantitative"},"y":{"datum":-8.14,"type":"quantitative"}}},
{"mark":{"type":"text","text":"where real yields are calculated by subtracting out February 2017 year-over-year core inflation.","align":"left","baseline":"middle","fontSize":7,"color":"#222222"},"encoding":{"x":{"datum":1954.5,"type":"quantitative"},"y":{"datum":-8.91,"type":"quantitative"}}},
{"mark":{"type":"text","text":"Guide to the Markets – U.S.","align":"left","baseline":"middle","fontSize":7,"fontStyle":"italic","color":"#222222"},"encoding":{"x":{"datum":1954.5,"type":"quantitative"},"y":{"datum":-9.68,"type":"quantitative"}}},
{"mark":{"type":"text","text":"Data are as of March 31, 2017.","align":"left","baseline":"middle","fontSize":7,"color":"#222222"},"encoding":{"x":{"datum":1964.4,"type":"quantitative"},"y":{"datum":-9.68,"type":"quantitative"}}},
{"mark":{"type":"text","text":"J.P.Morgan","align":"right","baseline":"alphabetic","fontSize":21,"font":"Liberation Serif","color":"#333333"},"encoding":{"x":{"datum":2018.61,"type":"quantitative"},"y":{"datum":-11.4,"type":"quantitative"}}},
{"mark":{"type":"text","text":"Asset Management","align":"right","baseline":"alphabetic","fontSize":10.5,"font":"Liberation Sans","color":"#444444"},"encoding":{"x":{"datum":2018.61,"type":"quantitative"},"y":{"datum":-12.8,"type":"quantitative"}}}
]
}
